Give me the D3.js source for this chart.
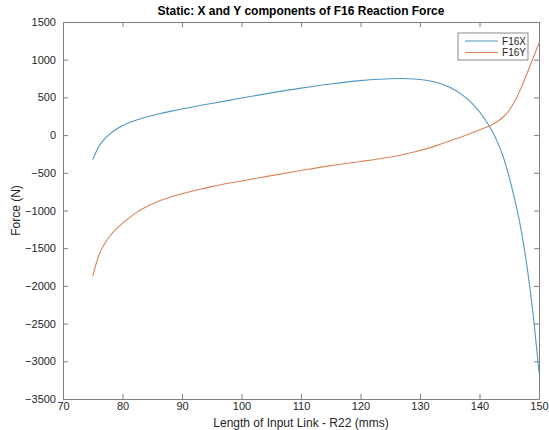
<!DOCTYPE html>
<html>
<head>
<meta charset="utf-8">
<script src="https://cdn.jsdelivr.net/npm/d3@7"></script>
<style>
  body { margin: 0; background: #fff; }
  text { font-family: "Liberation Sans", Arial, sans-serif; fill: #262626; }
</style>
</head>
<body>
<div id="container"></div>
<script>
const width = 549;
const height = 430;

// length of input link R22 (mm)
const lengths = [75, 76, 77, 78, 79, 80, 82, 84, 86, 88, 90, 93, 95, 100, 105, 110, 115, 120, 123, 125, 127,
  129, 131, 133, 135, 137, 139, 141, 142, 143, 144, 145, 146, 147, 148, 149, 150];

const f16x = [-325, -155, -50, 22, 80, 125, 190, 240, 280, 315, 347, 392, 420, 492, 560, 623, 678, 722, 740, 748, 750,
  745, 728, 695, 635, 540, 400, 200, 70, -90, -290, -560, -880, -1260, -1750, -2370, -3150];

const f16y = [-1870, -1600, -1440, -1328, -1241, -1170, -1045, -950, -880, -825, -778, -718, -683, -608, -538, -470, -405, -350, -318, -290, -260,
  -225, -183, -133, -78, -22, 38, 100, 135, 180, 240, 330, 460, 630, 820, 1020, 1220];

const xTicks = [70, 80, 90, 100, 110, 120, 130, 140, 150];
const yTicks = [1500, 1000, 500, 0, -500, -1000, -1500, -2000, -2500, -3000, -3500];

const seriesNames = ['F16X', 'F16Y'];
const seriesColors = ['#4f97c4', '#d98557'];

const margin = { left: 63, right: 10, top: 22, bottom: 31 };

const x = d3.scaleLinear().domain([70, 150]).range([margin.left, width - margin.right]);
const y = d3.scaleLinear().domain([-3500, 1500]).range([height - margin.bottom, margin.top]);

const svg = d3.select('#container')
  .append('svg')
  .attr('width', width)
  .attr('height', height);

const axisColor = '#7f7f7f';
const tickLen = 5;
const fmt = d3.format('d');

// bottom + top axes (ticks pointing inward)
svg.append('g')
  .attr('transform', `translate(0,${y.range()[0]})`)
  .call(d3.axisBottom(x).tickValues(xTicks).tickSize(-tickLen).tickSizeOuter(0).tickPadding(3).tickFormat(fmt))
  .call(g => g.select('.domain').attr('stroke', axisColor))
  .call(g => g.selectAll('.tick line').attr('stroke', axisColor))
  .call(g => g.selectAll('.tick text').attr('font-size', 11).attr('fill', '#262626'));

svg.append('g')
  .attr('transform', `translate(0,${y.range()[1]})`)
  .call(d3.axisTop(x).tickValues(xTicks).tickSize(-tickLen).tickSizeOuter(0).tickFormat(''))
  .call(g => g.select('.domain').attr('stroke', axisColor))
  .call(g => g.selectAll('.tick line').attr('stroke', axisColor));

// left + right axes
svg.append('g')
  .attr('transform', `translate(${x.range()[0]},0)`)
  .call(d3.axisLeft(y).tickValues(yTicks).tickSize(-tickLen).tickSizeOuter(0).tickPadding(7).tickFormat(fmt))
  .call(g => g.select('.domain').attr('stroke', axisColor))
  .call(g => g.selectAll('.tick line').attr('stroke', axisColor))
  .call(g => g.selectAll('.tick text').attr('font-size', 11).attr('fill', '#262626'));

svg.append('g')
  .attr('transform', `translate(${x.range()[1]},0)`)
  .call(d3.axisRight(y).tickValues(yTicks).tickSize(-tickLen).tickSizeOuter(0).tickFormat(''))
  .call(g => g.select('.domain').attr('stroke', axisColor))
  .call(g => g.selectAll('.tick line').attr('stroke', axisColor));

// curves
const line = d3.line()
  .x(d => x(d[0]))
  .y(d => y(d[1]))
  .curve(d3.curveMonotoneX);

[f16x, f16y].forEach((vals, i) => {
  svg.append('path')
    .datum(lengths.map((l, j) => [l, vals[j]]))
    .attr('fill', 'none')
    .attr('stroke', seriesColors[i])
    .attr('stroke-width', 1.1)
    .attr('d', line);
});

// title and axis labels
svg.append('text')
  .attr('x', (x.range()[0] + x.range()[1]) / 2)
  .attr('y', 15)
  .attr('text-anchor', 'middle')
  .attr('font-size', 12)
  .attr('font-weight', 'bold')
  .style('fill', '#000')
  .text('Static: X and Y components of F16 Reaction Force');

svg.append('text')
  .attr('x', (x.range()[0] + x.range()[1]) / 2)
  .attr('y', height - 3)
  .attr('text-anchor', 'middle')
  .attr('font-size', 12)
  .text('Length of Input Link - R22 (mms)');

svg.append('text')
  .attr('transform', `translate(20,${(y.range()[0] + y.range()[1]) / 2}) rotate(-90)`)
  .attr('text-anchor', 'middle')
  .attr('font-size', 12)
  .text('Force (N)');

// legend
const legend = svg.append('g').attr('transform', 'translate(458,33)');
legend.append('rect')
  .attr('width', 70).attr('height', 27)
  .attr('fill', '#fff').attr('stroke', '#6e6e6e').attr('stroke-width', 0.8);

seriesNames.forEach((name, i) => {
  const ly = 8 + i * 11.5;
  legend.append('line')
    .attr('x1', 7).attr('x2', 40).attr('y1', ly).attr('y2', ly)
    .attr('stroke', seriesColors[i]).attr('stroke-width', 1.1);
  legend.append('text')
    .attr('x', 68).attr('y', ly)
    .attr('dy', '0.35em')
    .attr('text-anchor', 'end')
    .attr('font-size', 10)
    .text(name);
});
</script>
</body>
</html>
